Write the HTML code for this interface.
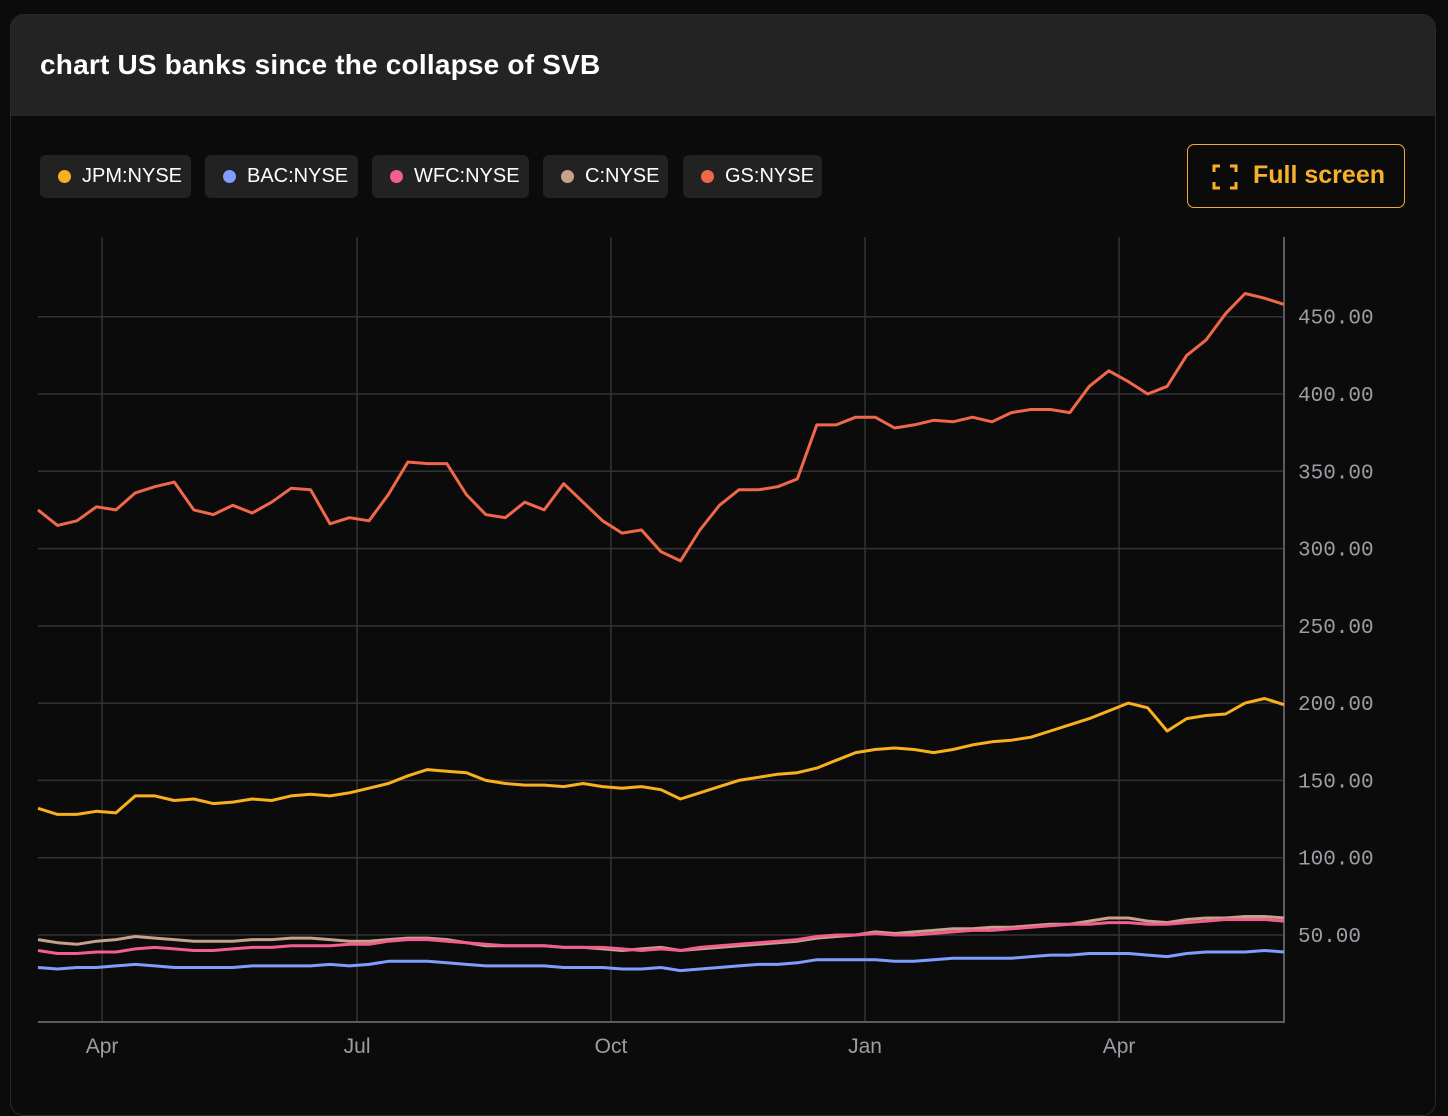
<!DOCTYPE html>
<html><head><meta charset="utf-8"><style>
body{margin:0;width:1448px;height:1082px;background:#0b0b0b;overflow:hidden;font-family:"Liberation Sans",sans-serif}
#card{position:absolute;left:10px;top:14px;width:1424px;height:1100px;background:#0b0b0b;border:1px solid #2a2a2a;border-radius:14px;overflow:hidden}
#hdr{height:101px;background:#232323;}
#title{position:absolute;left:29px;top:34px;color:#fff;font-weight:bold;font-size:28px;letter-spacing:0.2px}
.pill{position:absolute;top:140px;height:43px;background:#222;border-radius:6px;color:#fff;font-size:20px;line-height:43px;padding:0 8px 0 42px;box-sizing:border-box}
.pill i{position:absolute;left:18px;top:15px;width:13px;height:13px;border-radius:50%}
#fs{position:absolute;left:1176px;top:129px;width:218px;height:64px;border:1.5px solid #f5ad27;border-radius:7px;box-sizing:border-box;color:#f7b02c;font-weight:bold;font-size:25px;line-height:61px}
svg{position:absolute;left:0;top:0}
</style></head><body>
<div id="card">
<div id="hdr"></div>
<div id="title">chart US banks since the collapse of SVB</div>
<div class="pill" style="left:29px;width:151px"><i style="background:#f8b01e"></i>JPM:NYSE</div>
<div class="pill" style="left:194px;width:153px"><i style="background:#7f9cff"></i>BAC:NYSE</div>
<div class="pill" style="left:361px;width:157px"><i style="background:#f25e8e"></i>WFC:NYSE</div>
<div class="pill" style="left:532px;width:125px"><i style="background:#c8a08c"></i>C:NYSE</div>
<div class="pill" style="left:672px;width:139px"><i style="background:#f0674a"></i>GS:NYSE</div>
<div id="fs">
<svg width="26" height="26" style="left:24px;top:19px"><path d="M2 8V2h6M18 2h6v6M24 18v6h-6M8 24H2v-6" fill="none" stroke="#f7b02c" stroke-width="3"/></svg>
<span style="position:absolute;left:65px">Full screen</span></div>
</div>
<svg id="chart" width="1448" height="1082"></svg>
<script>
const yTicks=[50,100,150,200,250,300,350,400,450];
const xTickLabels=["Apr","Jul","Oct","Jan","Apr"];
const xTickIdx=[3.29,16.39,29.43,42.48,55.53];
const gs=[325,315,318,327,325,336,340,343,325,322,328,323,330,339,338,316,320,318,335,356,355,355,335,322,320,330,325,342,330,318,310,312,298,292,312,328,338,338,340,345,380,380,385,385,378,380,383,382,385,382,388,390,390,388,405,415,408,400,405,425,435,452,465,462,458];
const jpm=[132,128,128,130,129,140,140,137,138,135,136,138,137,140,141,140,142,145,148,153,157,156,155,150,148,147,147,146,148,146,145,146,144,138,142,146,150,152,154,155,158,163,168,170,171,170,168,170,173,175,176,178,182,186,190,195,200,197,182,190,192,193,200,203,199];
const bac=[29,28,29,29,30,31,30,29,29,29,29,30,30,30,30,31,30,31,33,33,33,32,31,30,30,30,30,29,29,29,28,28,29,27,28,29,30,31,31,32,34,34,34,34,33,33,34,35,35,35,35,36,37,37,38,38,38,37,36,38,39,39,39,40,39];
const wfc=[40,38,38,39,39,41,42,41,40,40,41,42,42,43,43,43,44,44,46,47,47,46,45,44,43,43,43,42,42,42,41,40,41,40,42,43,44,45,46,47,49,50,50,51,50,50,51,52,53,53,54,55,56,57,57,58,58,57,57,58,59,60,60,60,59];
const cit=[47,45,44,46,47,49,48,47,46,46,46,47,47,48,48,47,46,46,47,48,48,47,45,43,43,43,43,42,42,41,40,41,42,40,41,42,43,44,45,46,48,49,50,52,51,52,53,54,54,55,55,56,57,57,59,61,61,59,58,60,61,61,62,62,61];
const X0=38,X1=1284,N=65,T=237,B=1022;
const x=i=>X0+i*(X1-X0)/(N-1);
const y=v=>935-(v-50)*1.5457;
const svg=document.getElementById('chart'),NS='http://www.w3.org/2000/svg';
function mk(t,a){const e=document.createElementNS(NS,t);for(const k in a)e.setAttribute(k,a[k]);svg.appendChild(e);return e;}
yTicks.forEach(v=>{const l=mk('line',{x1:X0,x2:X1,y1:y(v),y2:y(v),stroke:'#333','stroke-width':1.5});


const t=mk('text',{x:1298,y:y(v)+7,fill:'#9c9ea3','font-size':21,'font-family':'Liberation Mono, monospace'});t.textContent=v.toFixed(2);

});
xTickIdx.forEach((d,k)=>{const l=mk('line',{x1:x(d),x2:x(d),y1:T,y2:B,stroke:'#333','stroke-width':1.5});


const t=mk('text',{x:x(d),y:1053,fill:'#9c9ea3','font-size':21,'text-anchor':'middle'});t.textContent=xTickLabels[k];

});
const ax=mk('path',{d:`M${X0} ${B}H${X1}V${T}`,stroke:'#5a5c60','stroke-width':2,fill:'none'});


[[bac,'#7f9cff','bac-line'],[cit,'#c8a08c','c-line'],[wfc,'#f25e8e','wfc-line'],[jpm,'#f8b01e','jpm-line'],[gs,'#f0674a','gs-line']].forEach(([d,c,n])=>{
const p=mk('path',{d:d.map((v,i)=>(i?'L':'M')+x(i).toFixed(1)+' '+y(v).toFixed(1)).join(''),stroke:c,'stroke-width':3,fill:'none','stroke-linejoin':'round'});

});
</script>
</body></html>
